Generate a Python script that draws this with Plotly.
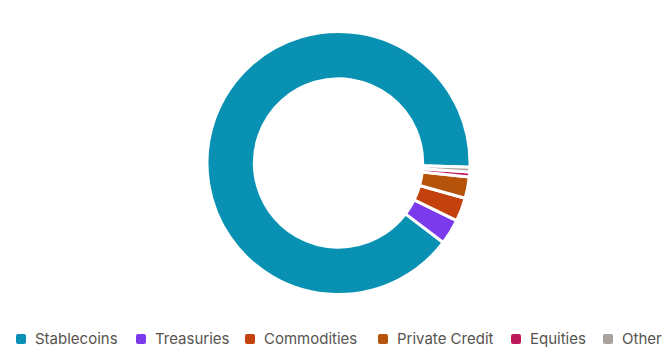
import plotly.graph_objects as go

categories = ["Stablecoins", "Treasuries", "Commodities", "Private Credit", "Equities", "Other"]
shares = [89.9, 3.1, 2.9, 2.6, 0.6, 0.6]
colors = ["#0891b2", "#7c3aed", "#c2410c", "#b45309", "#be185d", "#a8a29e"]

W, H = 672, 357
# first slice begins just below 3 o'clock and the slices run counterclockwise
start_offset = 91.8
rotation = start_offset + 360 * (1 - shares[0] / sum(shares))

fig = go.Figure(go.Pie(
    labels=categories,
    values=shares,
    sort=False,
    direction="counterclockwise",
    rotation=rotation,
    hole=0.64,
    domain=dict(x=[5 / W, 1], y=[(H - 294.5) / H, (H - 31.5) / H]),
    marker=dict(colors=colors, line=dict(color="#ffffff", width=3)),
    textinfo="none",
    hoverinfo="label+percent",
    showlegend=False,
))

# custom single-row legend (layout positions in px)
legend_text_x = [33, 153, 262, 395, 528, 620]
legend_y = 338
sw, sh, rad = 10, 10, 2


def rounded_rect(cx, cy):
    x0, x1 = (cx - sw / 2) / W, (cx + sw / 2) / W
    y0, y1 = (H - (cy + sh / 2)) / H, (H - (cy - sh / 2)) / H
    rx, ry = rad / W, rad / H
    return (f"M{x0 + rx},{y0} L{x1 - rx},{y0} Q{x1},{y0} {x1},{y0 + ry} "
            f"L{x1},{y1 - ry} Q{x1},{y1} {x1 - rx},{y1} L{x0 + rx},{y1} "
            f"Q{x0},{y1} {x0},{y1 - ry} L{x0},{y0 + ry} Q{x0},{y0} {x0 + rx},{y0} Z")


shapes = []
annotations = []
for name, col, tx in zip(categories, colors, legend_text_x):
    shapes.append(dict(type="path", xref="paper", yref="paper",
                       path=rounded_rect(tx - 12, legend_y + 1),
                       fillcolor=col, line=dict(width=0)))
    annotations.append(dict(text=name, xref="paper", yref="paper",
                            x=tx / W, y=(H - legend_y) / H,
                            xanchor="left", yanchor="middle", showarrow=False,
                            font=dict(family="Inter", size=15, color="#57534e")))

fig.update_layout(
    width=W,
    height=H,
    margin=dict(l=0, r=0, t=0, b=0),
    paper_bgcolor="#ffffff",
    plot_bgcolor="#ffffff",
    font=dict(family="Inter", size=15, color="#57534e"),
    shapes=shapes,
    annotations=annotations,
)

fig.write_html("out.html")
